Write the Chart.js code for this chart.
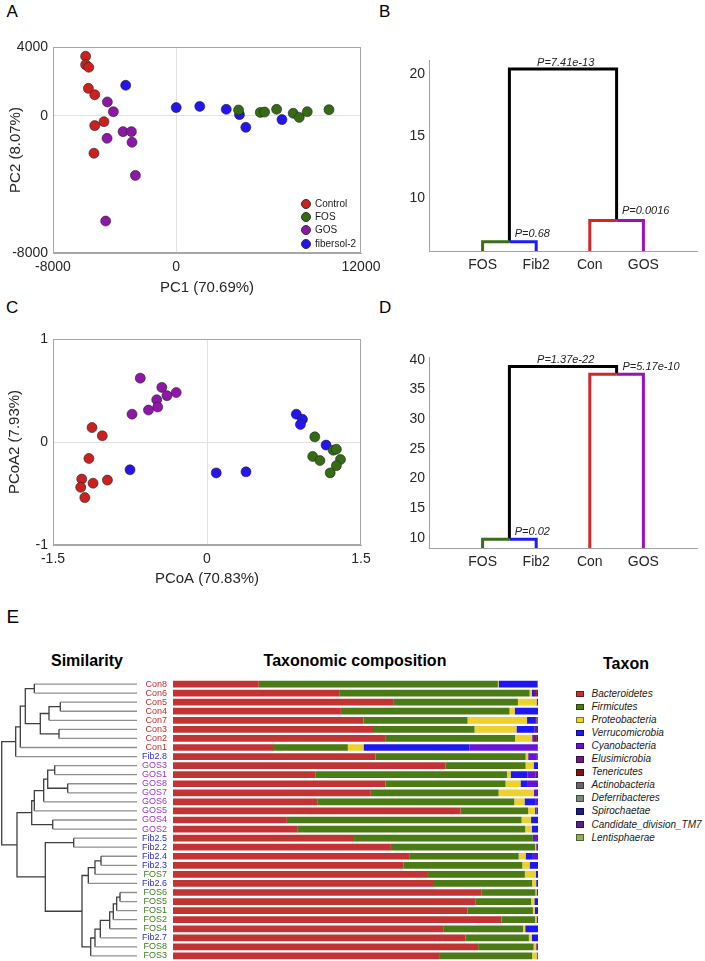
<!DOCTYPE html>
<html><head><meta charset="utf-8">
<script src="https://cdn.jsdelivr.net/npm/chart.js@4.4.1/dist/chart.umd.min.js"></script>
<style>
html,body{margin:0;padding:0;background:#fff;}
body{width:705px;height:961px;position:relative;overflow:hidden;font-family:"Liberation Sans",Arial,Helvetica,sans-serif;color:#000;}
canvas{position:absolute;}
.t{position:absolute;white-space:nowrap;line-height:1;}
.head{position:absolute;font-size:16px;font-weight:bold;text-align:center;line-height:16px;white-space:nowrap;}
.lg{position:absolute;font-size:10px;line-height:12px;color:#1a1a1a;white-space:nowrap;}
.dot{position:absolute;width:10px;height:10px;border-radius:50%;box-sizing:border-box;border:0.7px solid #333;}
.sq{position:absolute;width:8px;height:6.5px;box-sizing:border-box;border:0.8px solid rgba(0,0,0,0.45);}
</style></head>
<body>
<div class="t" style="left:6.5px;top:2.8px;font-size:17px">A</div>
<div class="t" style="left:379px;top:2.8px;font-size:17px">B</div>
<div class="t" style="left:6px;top:298.8px;font-size:17px">C</div>
<div class="t" style="left:379px;top:298.8px;font-size:17px">D</div>
<div class="t" style="left:6.5px;top:606.5px;font-size:19px">E</div>
<div class="head" style="left:37px;top:653px;width:100px">Similarity</div>
<div class="head" style="left:235px;top:653px;width:240px">Taxonomic composition</div>
<div class="head" style="left:576px;top:656px;width:100px">Taxon</div>
<script>
// ================= DATA =================
const groupNames = ['Control', 'FOS', 'GOS', 'fibersol-2'];
const groupColors = ['#cc1f1f', '#346c15', '#8e16a8', '#2414f0'];

// Panel A: PCA scores
const pcaControlX = [-5880, -5880, -5680, -5700, -5290, -5290, -4690, -5340];
const pcaControlY = [3460, 2970, 2820, 1590, 1220, -580, -350, -2190];
const pcaFosX = [4050, 5460, 5740, 6520, 7600, 7990, 8510, 9920];
const pcaFosY = [330, 190, 210, 370, 140, -100, 230, 350];
const pcaGosX = [-4470, -4080, -3450, -2910, -4490, -2870, -2650, -4580];
const pcaGosY = [800, 230, -930, -930, -1320, -1550, -3480, -6140];
const pcaFibX = [-3280, 0, 1530, 3250, 4110, 4520, 6870];
const pcaFibY = [1770, 470, 540, 370, 60, -680, -230];
const pcaXTicks = [-8000, 0, 12000];
const pcaYTicks = [-8000, 0, 4000];

// Panel C: PCoA scores
const pcoaControlX = [-1.12, -1.02, -1.15, -1.22, -1.23, -1.11, -0.97, -1.19];
const pcoaControlY = [0.14, 0.06, -0.16, -0.36, -0.44, -0.40, -0.37, -0.54];
const pcoaFosX = [1.05, 1.03, 1.10, 1.23, 1.26, 1.30, 1.26, 1.20];
const pcoaFosY = [0.05, -0.14, -0.18, -0.08, -0.07, -0.17, -0.23, -0.30];
const pcoaGosX = [-0.65, -0.44, -0.30, -0.39, -0.49, -0.48, -0.57, -0.73];
const pcoaGosY = [0.62, 0.53, 0.48, 0.45, 0.41, 0.34, 0.31, 0.27];
const pcoaFibX = [-0.75, 0.09, 0.38, 0.87, 0.93, 0.91, 1.16];
const pcoaFibY = [-0.27, -0.30, -0.29, 0.27, 0.22, 0.17, -0.03];
const pcoaXTicks = [-1.5, 0, 1.5];
const pcoaYTicks = [-1, 0, 1];

// Panels B & D: group dendrograms
const dendroGroups = ['FOS', 'Fib2', 'Con', 'GOS'];
const dendroColors = ['#3b6e1a', '#1d1df2', '#d42626', '#9912b5'];
const bJoins = [6.45, 8.17, 20.4];          // (FOS,Fib2), (Con,GOS), top
const bPValues = ['P=0.68', 'P=0.0016', 'P=7.41e-13'];
const bYRange = [5.7, 21.13];
const bYTicks = [10, 15, 20];
const dJoins = [9.78, 37.6, 38.9];
const dPValues = ['P=0.02', 'P=5.17e-10', 'P=1.37e-22'];
const dYRange = [8.3, 40.5];
const dYTicks = [10, 15, 20, 25, 30, 35, 40];

// Panel E: samples (top to bottom) and taxonomic composition (%)
const sampleNames = ['Con8','Con6','Con5','Con4','Con7','Con3','Con2','Con1','Fib2.8','GOS3','GOS1','GOS8','GOS7','GOS6','GOS5','GOS4','GOS2','Fib2.5','Fib2.2','Fib2.4','Fib2.3','FOS7','Fib2.6','FOS6','FOS5','FOS1','FOS2','FOS4','Fib2.7','FOS8','FOS3'];
const taxa = ['Bacteroidetes','Firmicutes','Proteobacteria','Verrucomicrobia','Cyanobacteria','Elusimicrobia','Tenericutes','Actinobacteria','Deferribacteres','Spirochaetae','Candidate_division_TM7','Lentisphaerae'];
const taxaColors = ['#c23434','#4b7b14','#ecd12f','#1f17f2','#6714d6','#6c1a7e','#7e1414','#676767','#7b897b','#1a1a8e','#5b1b91','#8fb055'];
const bacteroidetes = [23.5,45.7,60.5,46.0,52.2,54.8,58.3,27.4,55.5,74.7,39.1,58.2,54.2,39.5,78.8,31.2,34.2,49.6,59.7,64.7,63.2,69.6,71.5,84.6,82.8,80.7,90.0,74.2,80.1,83.6,72.9];
const firmicutes = [65.5,52.0,34.0,46.2,28.5,27.8,35.4,20.5,41.1,21.9,52.4,32.9,35.0,54.0,18.5,64.3,62.3,49.0,39.5,30.0,32.5,26.8,26.9,14.7,15.3,17.9,9.2,21.7,17.4,15.2,25.5];
const proteobacteria = [0.2,0.6,5.1,1.4,16.3,11.5,4.7,4.3,0.7,2.2,1.0,4.1,9.7,2.8,1.9,2.6,1.8,0,0.3,1.9,2.0,3.0,1.1,0.3,0.9,0.5,0.4,0.6,0.8,0.7,1.2];
const verrucomicrobia = [10.6,0.6,0,6.4,2.2,5.0,0,29.0,0,1.2,4.6,1.8,0,2.9,0.4,1.9,1.7,0,0,2.0,2.3,0.6,0.5,0,1.0,0.9,0,3.5,1.7,0,0];
const cyanobacteria = [0,0,0.4,0,0,0,0.5,18.7,2.4,0,2.3,3.0,1.1,0.8,0.4,0,0,1.4,0.5,1.4,0,0,0,0.4,0,0,0.4,0,0,0.5,0];
const elusimicrobia = [0,0.6,0,0,0,0.9,0.6,0,0,0,0.6,0,0,0,0,0,0,0,0,0,0,0,0,0,0,0,0,0,0,0,0];
const tenericutes = [0,0.5,0,0,0.4,0,0.5,0,0,0,0,0,0,0,0,0,0,0,0,0,0,0,0,0,0,0,0,0,0,0,0];
const actinobacteria = [0.2,0,0,0,0.4,0,0,0,0.3,0,0,0,0,0,0,0,0,0,0,0,0,0,0,0,0,0,0,0,0,0,0.4];
const deferribacteres = [0,0,0,0,0,0,0,0,0,0,0,0,0,0,0,0,0,0,0,0,0,0,0,0,0,0,0,0,0,0,0];
const spirochaetae = [0,0,0,0,0,0,0,0.1,0,0,0,0,0,0,0,0,0,0,0,0,0,0,0,0,0,0,0,0,0,0,0];
const tm7 = [0,0,0,0,0,0,0,0,0,0,0,0,0,0,0,0,0,0,0,0,0,0,0,0,0,0,0,0,0,0,0];
const lentisphaerae = [0,0,0,0,0,0,0,0,0,0,0,0,0,0,0,0,0,0,0,0,0,0,0,0,0,0,0,0,0,0,0];
const taxaValues = [bacteroidetes, firmicutes, proteobacteria, verrucomicrobia, cyanobacteria, elusimicrobia, tenericutes, actinobacteria, deferribacteres, spirochaetae, tm7, lentisphaerae];
const samplePrefixes = ['Con', 'Fib', 'GOS', 'FOS'];
const sampleLabelColors = ['#c42b2b', '#2b2bd6', '#9d33c9', '#3f7a1c'];
// similarity linkage: [childA, childB, height]; leaves 0..30, merged nodes 31..
const similarityLinkage = [
  [0,1,102.7],[2,3,76.7],[32,4,88.0],[5,6,78.0],[33,34,96.7],[31,35,111.7],[36,7,116.7],[37,8,121.3],
  [9,10,82.3],[11,12,69.3],[39,40,89.3],[41,13,93.3],[42,14,102.7],[15,16,84.3],[43,44,105.3],
  [17,18,63.3],[19,20,36.0],[47,21,42.0],[48,22,48.7],[23,24,17.0],[50,25,20.3],[51,26,23.7],
  [52,27,27.3],[53,28,36.7],[54,29,42.0],[55,30,46.3],[49,56,55.0],[46,57,91.7],[45,58,120.0],[38,59,135.3]
];
const similarityMax = 136;

// ================= HELPERS =================
Chart.defaults.font.family = '"Liberation Sans", Arial, Helvetica, sans-serif';
Chart.defaults.color = '#262626';

function place(r) {
  const c = document.createElement('canvas');
  c.width = r.w; c.height = r.h;
  c.style.left = r.x + 'px'; c.style.top = r.y + 'px';
  c.style.width = r.w + 'px'; c.style.height = r.h + 'px';
  document.body.appendChild(c);
  return c;
}
function zeroPad(s) { s.paddingLeft = 0; s.paddingRight = 0; s.paddingTop = 0; s.paddingBottom = 0; }
const fitW = w => s => { s.width = w; zeroPad(s); };
const fitH = h => s => { s.height = h; zeroPad(s); };
const setTicks = vals => s => { s.ticks = vals.map(v => ({ value: v })); };

const framePlugin = {
  id: 'frame',
  beforeDatasetsDraw(chart) {
    const { ctx, chartArea: a } = chart;
    ctx.save();
    ctx.strokeStyle = '#a6a6a6'; ctx.lineWidth = 1;
    ctx.strokeRect(Math.round(a.left) + 0.5, Math.round(a.top) + 0.5, Math.round(a.right - a.left) - 1, Math.round(a.bottom - a.top) - 1);
    ctx.restore();
  }
};
function pTextPlugin(items) {
  return {
    id: 'ptext',
    afterDatasetsDraw(chart) {
      const { ctx, scales: { x, y } } = chart;
      ctx.save();
      ctx.font = 'italic 11px "Liberation Sans", Arial, sans-serif';
      ctx.fillStyle = '#222';
      ctx.textBaseline = 'alphabetic';
      items.forEach(it => {
        ctx.textAlign = it.align;
        ctx.fillText(it.text, x.getPixelForValue(it.x), y.getPixelForValue(it.y) - it.dy);
      });
      ctx.restore();
    }
  };
}

function scatterChart(r, a, xs, ys, xt, yt, xTitle, yTitle, xTitlePad, yTitlePad) {
  const zeroGrid = { drawTicks: false, lineWidth: 1, color: c => (c.tick && c.tick.value === 0) ? '#e2e2e2' : 'rgba(0,0,0,0)' };
  return new Chart(place(r), {
    type: 'scatter',
    data: {
      datasets: groupNames.map((g, i) => ({
        label: g,
        data: xs[i].map((v, j) => ({ x: v, y: ys[i][j] })),
        backgroundColor: groupColors[i], borderColor: 'rgba(35,35,35,0.85)', borderWidth: 0.7,
        pointRadius: 5, pointHoverRadius: 5
      }))
    },
    options: {
      responsive: false, animation: false, devicePixelRatio: 1, events: [],
      layout: { padding: { left: 0, top: a.t - r.y, right: r.x + r.w - a.r, bottom: 0 } },
      plugins: { legend: { display: false }, tooltip: { enabled: false } },
      scales: {
        x: {
          type: 'linear', min: xt[0], max: xt[xt.length - 1], afterBuildTicks: setTicks(xt),
          ticks: { callback: v => String(v), padding: 6, font: { size: 14 }, maxRotation: 0, minRotation: 0, autoSkip: false },
          grid: zeroGrid, border: { display: true, color: '#a6a6a6' },
          title: { display: true, text: xTitle, font: { size: 15 }, padding: { top: 0, bottom: xTitlePad } },
          afterFit: fitH(r.y + r.h - a.b)
        },
        y: {
          type: 'linear', min: yt[0], max: yt[yt.length - 1], afterBuildTicks: setTicks(yt),
          ticks: { callback: v => String(v), padding: 5, font: { size: 14 }, autoSkip: false },
          grid: zeroGrid, border: { display: true, color: '#a6a6a6' },
          title: { display: true, text: yTitle, font: { size: 15 }, padding: { top: yTitlePad, bottom: 0 } },
          afterFit: fitW(a.l - r.x)
        }
      }
    },
    plugins: [framePlugin]
  });
}

function groupDendro(r, a, joins, yRange, yTicks, pvals, pOffsets) {
  const floor = yRange[0];
  const posOf = i => i + 1;
  const midL = (posOf(0) + posOf(1)) / 2, midR = (posOf(2) + posOf(3)) / 2;
  const sets = dendroGroups.map((g, i) => {
    const h = i < 2 ? joins[0] : joins[1];
    const mid = i < 2 ? midL : midR;
    return { data: [{ x: posOf(i), y: floor }, { x: posOf(i), y: h }, { x: mid, y: h }], borderColor: dendroColors[i] };
  });
  sets.push({ data: [{ x: midL, y: joins[0] }, { x: midL, y: joins[2] }, { x: midR, y: joins[2] }, { x: midR, y: joins[1] }], borderColor: '#000' });
  sets.forEach(s => Object.assign(s, { showLine: true, borderWidth: 3, pointRadius: 0, fill: false, borderJoinStyle: 'miter', tension: 0 }));
  const items = [
    { text: pvals[0], x: midL + pOffsets[0], y: joins[0], dy: pOffsets[3], align: 'left' },
    { text: pvals[1], x: midR + pOffsets[1], y: joins[1], dy: pOffsets[4], align: 'left' },
    { text: pvals[2], x: (midL + midR) / 2 + pOffsets[2], y: joins[2], dy: pOffsets[5], align: 'center' }
  ];
  const xt = dendroGroups.map((g, i) => posOf(i));
  return new Chart(place(r), {
    type: 'scatter',
    data: { datasets: sets },
    options: {
      responsive: false, animation: false, devicePixelRatio: 1, events: [],
      layout: { padding: { left: 0, top: a.t - r.y, right: r.x + r.w - a.r, bottom: 0 } },
      plugins: { legend: { display: false }, tooltip: { enabled: false } },
      scales: {
        x: {
          type: 'linear', min: 0, max: dendroGroups.length + 1, afterBuildTicks: setTicks(xt),
          ticks: { callback: v => dendroGroups[Math.round(v) - 1], padding: 6, font: { size: 14 }, maxRotation: 0, autoSkip: false },
          grid: { display: false, drawTicks: false }, border: { display: true, color: '#a0a0a0' },
          afterFit: fitH(r.y + r.h - a.b)
        },
        y: {
          type: 'linear', min: yRange[0], max: yRange[1], afterBuildTicks: setTicks(yTicks),
          ticks: { callback: v => String(v), padding: 4, font: { size: 14 }, autoSkip: false },
          grid: { display: false, drawTicks: false }, border: { display: true, color: '#a0a0a0' },
          afterFit: fitW(a.l - r.x)
        }
      }
    },
    plugins: [pTextPlugin(items)]
  });
}

// ================= PANEL A =================
scatterChart({ x: 0, y: 25, w: 380, h: 275 }, { l: 53, t: 47, r: 361, b: 253 },
  [pcaControlX, pcaFosX, pcaGosX, pcaFibX], [pcaControlY, pcaFosY, pcaGosY, pcaFibY],
  pcaXTicks, pcaYTicks, 'PC1 (70.69%)', 'PC2 (8.07%)', 3.5, 7);
// legend of panel A
groupNames.forEach((g, i) => {
  const cy = 203.7 + i * 13.3;
  const d = document.createElement('div');
  d.className = 'dot'; d.style.left = '300.8px'; d.style.top = (cy - 5) + 'px'; d.style.background = groupColors[i];
  document.body.appendChild(d);
  const t = document.createElement('div');
  t.className = 'lg'; t.style.left = '315px'; t.style.top = (cy - 6) + 'px'; t.textContent = g;
  document.body.appendChild(t);
});

// ================= PANEL B =================
groupDendro({ x: 380, y: 25, w: 325, h: 275 }, { l: 429, t: 60, r: 697, b: 251 },
  bJoins, bYRange, bYTicks, bPValues, [0.1, 0.1, 0.05, 5, 6, 3]);

// ================= PANEL C =================
scatterChart({ x: 0, y: 325, w: 380, h: 275 }, { l: 53, t: 339, r: 361, b: 545 },
  [pcoaControlX, pcoaFosX, pcoaGosX, pcoaFibX], [pcoaControlY, pcoaFosY, pcoaGosY, pcoaFibY],
  pcoaXTicks, pcoaYTicks, 'PCoA (70.83%)', 'PCoA2 (7.93%)', 12, 6);

// ================= PANEL D =================
groupDendro({ x: 380, y: 325, w: 325, h: 275 }, { l: 429, t: 357, r: 697, b: 548 },
  dJoins, dYRange, dYTicks, dPValues, [0.1, 0.11, 0.05, 4, 4, 3.5]);

// ================= PANEL E =================
const sampleColor = i => sampleLabelColors[samplePrefixes.findIndex(p => sampleNames[i].startsWith(p))];
new Chart(place({ x: 140, y: 675, w: 405, h: 286 }), {
  type: 'bar',
  data: {
    labels: sampleNames,
    datasets: taxa.map((t, i) => ({ label: t, data: taxaValues[i], backgroundColor: taxaColors[i], borderWidth: 0, barPercentage: 0.74, categoryPercentage: 1 }))
  },
  options: {
    indexAxis: 'y', responsive: false, animation: false, devicePixelRatio: 1, events: [],
    layout: { padding: { left: 0, top: 4.5, right: 7, bottom: 0.5 } },
    plugins: { legend: { display: false }, tooltip: { enabled: false } },
    scales: {
      x: { stacked: true, min: 0, max: 100, display: false },
      y: {
        stacked: true, grid: { display: false, drawTicks: false }, border: { display: false },
        ticks: { autoSkip: false, padding: 6, font: { size: 9 }, color: c => sampleColor(c.index) },
        afterFit: fitW(33)
      }
    }
  }
});

// similarity dendrogram
(function () {
  const n = sampleNames.length;
  const pos = [], hgt = [];
  for (let i = 0; i < n; i++) { pos[i] = i; hgt[i] = 0; }
  const sets = similarityLinkage.map((m, k) => {
    const [a, b, h] = m;
    pos[n + k] = (pos[a] + pos[b]) / 2; hgt[n + k] = h;
    return {
      data: [{ x: hgt[a], y: pos[a] }, { x: h, y: pos[a] }, { x: h, y: pos[b] }, { x: hgt[b], y: pos[b] }],
      showLine: true, pointRadius: 0, borderWidth: 1.3, borderColor: '#3e3e3e', tension: 0,
      segment: { borderColor: c => (c.p0.parsed.x === 0 || c.p1.parsed.x === 0) ? '#8f8f8f' : undefined }
    };
  });
  new Chart(place({ x: 0, y: 675, w: 140, h: 286 }), {
    type: 'scatter',
    data: { datasets: sets },
    options: {
      responsive: false, animation: false, devicePixelRatio: 1, events: [],
      layout: { padding: { left: 1, top: 4.5, right: 3, bottom: 0.5 } },
      plugins: { legend: { display: false }, tooltip: { enabled: false } },
      scales: {
        x: { type: 'linear', min: 0, max: similarityMax, reverse: true, display: false },
        y: { type: 'linear', min: -0.5, max: n - 0.5, reverse: true, display: false }
      }
    }
  });
})();

// taxon legend
taxa.forEach((t, i) => {
  const cy = 694 + i * 13.05;
  const s = document.createElement('div');
  s.className = 'sq'; s.style.left = '576px'; s.style.top = (cy - 3.25) + 'px'; s.style.background = taxaColors[i];
  document.body.appendChild(s);
  const d = document.createElement('div');
  d.className = 'lg'; d.style.left = '591.5px'; d.style.top = (cy - 6) + 'px'; d.style.fontStyle = 'italic'; d.textContent = t;
  document.body.appendChild(d);
});
</script>
</body></html>
